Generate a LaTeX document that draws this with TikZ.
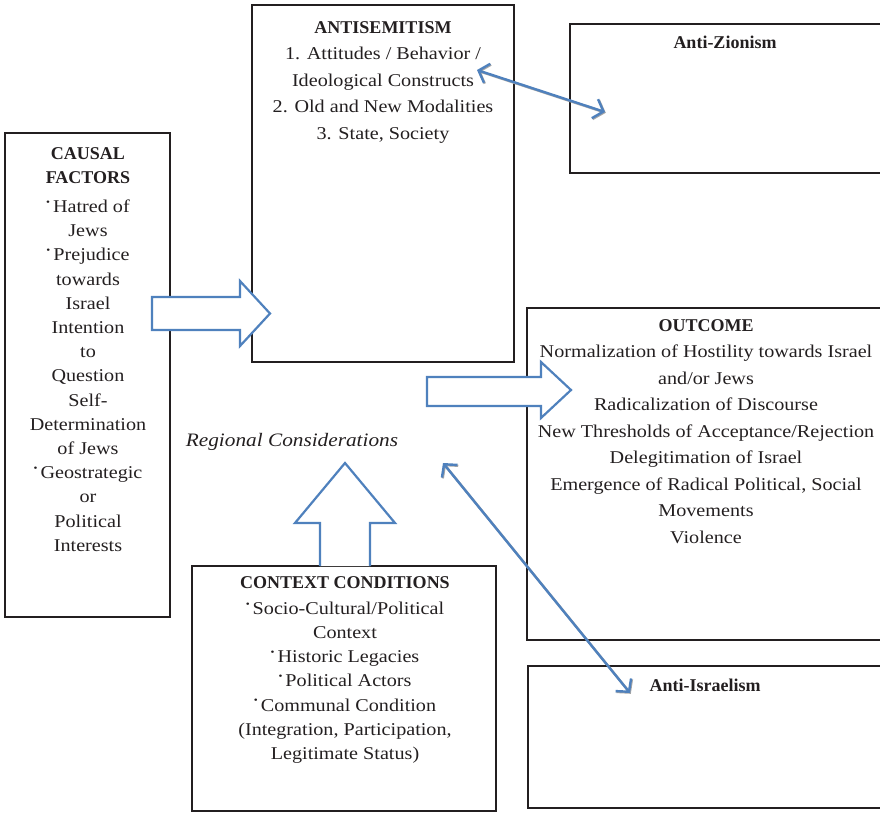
\documentclass[tikz,border=0pt]{standalone}
\usepackage{fontspec}
\setmainfont{Liberation Serif}[FakeStretch=1.12,BoldFeatures={FakeStretch=1.0}]
\usetikzlibrary{arrows.meta}
\usetikzlibrary{positioning,calc}
\definecolor{arrowblue}{RGB}{79,129,189}
\definecolor{boxline}{RGB}{35,31,32}
\tikzstyle{none}=[inner sep=0mm]
\tikzstyle{frame}=[draw=boxline,line width=2.5pt,shape=rectangle,inner sep=0pt]
\tikzstyle{boxtext}=[none,align=center,anchor=north,text=boxline]
\tikzstyle{widelines}=[font=\fontsize{18}{26.5}\selectfont]
\tikzstyle{narrowlines}=[font=\fontsize{18}{24.2}\selectfont]
\tikzstyle{blockarrow}=[draw=arrowblue,line width=2.2pt,fill=white,line join=miter]
\tikzstyle{twoway}=[draw=arrowblue,line width=2.4pt,
  {Straight Barb[length=9pt,width=20pt]}-{Straight Barb[length=9pt,width=20pt]},
  preaction={draw=gray!70,line width=2.4pt,transform canvas={shift={(0.8pt,-0.8pt)}}}]
\newcommand{\bul}{\raisebox{0.4em}{\fontsize{10}{10}\selectfont\textbullet}\,}

\begin{document}
\begin{tikzpicture}[x=1pt,y=-1pt]
	\useasboundingbox (0,0) rectangle (880,813);
	\clip (0,0) rectangle (880,813);
	% boxes
	\node [style=frame,line width=2.8pt,minimum width=165,minimum height=484] (causal) at (87.5,375) {};
	\node [style=frame,minimum width=262,minimum height=357] (antisem) at (383,183.5) {};
	\node [style=frame,minimum width=320,minimum height=149] (zionism) at (730,98.5) {};
	\node [style=frame,minimum width=363,minimum height=332] (outcome) at (708.5,474) {};
	\node [style=frame,minimum width=362,minimum height=142] (israelism) at (709,737) {};
	\node [style=frame,line width=2.2pt,minimum width=304,minimum height=245] (context) at (344,688.5) {};
	% texts
	\node [style=boxtext,style=widelines] (antisemtext) at (383,21) {\textbf{ANTISEMITISM}\\1. Attitudes / Behavior /\\Ideological Constructs\\2. Old and New Modalities\\3. State, Society};
	\node [style=boxtext,style=widelines] (zionismtext) at (725,36) {\textbf{Anti-Zionism}};
	\node [style=boxtext,style=narrowlines] (causaltext) at (88,147) {\textbf{CAUSAL}\\\textbf{FACTORS}\\[5pt]\bul Hatred of\\Jews\\\bul Prejudice\\towards\\Israel\\Intention\\to\\Question\\Self-\\Determination\\of Jews\\\bul Geostrategic\\or\\Political\\Interests};
	\node [style=boxtext,style=widelines] (outcometext) at (706,319) {\textbf{OUTCOME}\\Normalization of Hostility towards Israel\\and/or Jews\\Radicalization of Discourse\\New Thresholds of Acceptance/Rejection\\Delegitimation of Israel\\Emergence of Radical Political, Social\\Movements\\Violence};
	\node [style=boxtext,style=narrowlines] (contexttext) at (345,576) {\textbf{CONTEXT CONDITIONS}\\[2pt]\bul Socio-Cultural/Political\\Context\\\bul Historic Legacies\\\bul Political Actors\\\bul Communal Condition\\(Integration, Participation,\\Legitimate Status)};
	\node [style=boxtext,style=widelines] (israelismtext) at (705,679) {\textbf{Anti-Israelism}};
	\node [style=none,font=\fontsize{19}{26}\selectfont,text=boxline] (regional) at (292,442) {\textit{Regional Considerations}};
	% block arrows
	\draw [style=blockarrow] (152,297) -- (240,297) -- (240,281) -- (270,313.5) -- (240,346) -- (240,330) -- (152,330) -- cycle;
	\draw [style=blockarrow] (427,377) -- (541,377) -- (541,362) -- (571,390) -- (541,418) -- (541,406) -- (427,406) -- cycle;
	\draw [style=blockarrow] (320,566) -- (320,523) -- (295,523) -- (345,463) -- (395,523) -- (370,523) -- (370,566);
	% two-way links
	\coordinate (zfrom) at (477,70);
	\coordinate (zto) at (605,112);
	\coordinate (ifrom) at (443,463);
	\coordinate (ito) at (630,693);
	\draw [style=twoway] (zfrom) -- (zto);
	\draw [style=twoway] (ifrom) -- (ito);
\end{tikzpicture}
\end{document}
